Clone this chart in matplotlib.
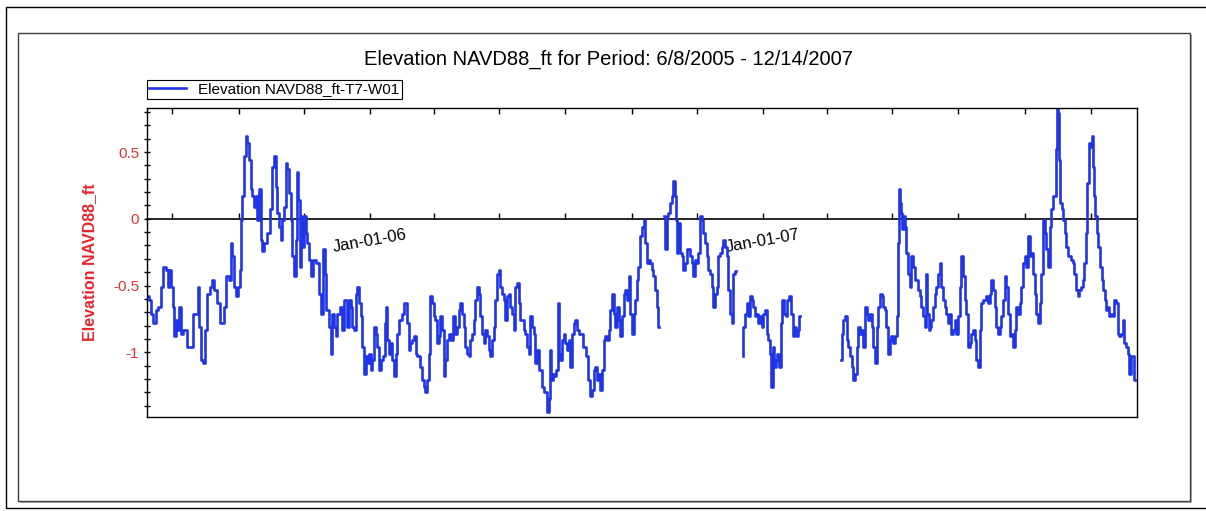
import numpy as np
import pandas as pd
import matplotlib
matplotlib.use("Agg")
import matplotlib.pyplot as plt
import matplotlib.dates as mdates
from matplotlib.ticker import MultipleLocator, FuncFormatter
from matplotlib.patches import Rectangle

plt.rcParams['font.family'] = ['Liberation Sans', 'DejaVu Sans']

# Период наблюдений
start_date = "2005-06-08"
end_date = "2007-12-14"
series_name = "Elevation NAVD88_ft-T7-W01"

# Дни от начала периода и отметка уровня (ft)
days = [
    0.0, 2.9, 4.4, 7.5, 9.1, 12.1, 13.7, 16.8, 18.3, 19.9,
    21.4, 23.0, 24.5, 26.0, 27.6, 29.1, 30.7, 32.2, 35.3, 38.4,
    41.5, 44.0, 46.1, 47.7, 49.2, 51.4, 53.2, 54.8, 56.9, 60.0,
    61.6, 63.1, 66.2, 69.9, 72.4, 74.9, 77.0, 78.6, 80.1, 81.7,
    84.1, 85.7, 86.9, 87.8, 89.4, 90.9, 92.5, 94.0, 95.6, 97.1,
    98.6, 100.2, 101.7, 103.3, 104.8, 106.4, 107.9, 110.1, 112.5, 115.0,
    117.2, 118.7, 120.3, 121.8, 123.4, 124.9, 126.5, 128.0, 129.5, 131.1,
    132.6, 134.2, 135.7, 137.3, 138.8, 139.7, 141.0, 142.2, 143.4, 145.0,
    146.5, 148.1, 149.6, 151.2, 152.7, 155.8, 158.3, 160.4, 162.0, 164.4,
    165.7, 167.5, 169.7, 171.2, 172.8, 174.3, 175.9, 177.4, 180.5, 182.0,
    183.6,
    185.1, 186.7, 188.2, 189.8, 191.3, 192.9, 194.4, 196.0, 197.5, 199.0,
    200.6, 202.1, 203.7, 205.2, 206.8, 208.3, 209.9, 211.4, 212.9, 214.5,
    216.0, 217.6, 220.1, 221.3, 222.2, 223.8, 225.3, 226.9, 228.4, 229.9,
    231.5, 233.0, 235.5, 237.7, 239.2, 240.8, 242.3, 243.8, 245.4, 246.9,
    248.5, 250.0, 252.2, 254.0, 256.2, 257.7, 259.3, 260.8, 262.4, 263.9,
    265.5, 267.0, 268.6, 270.1, 271.6, 273.2, 274.7, 276.3, 277.8, 279.4,
    281.8, 283.1, 285.5, 287.1, 288.6, 290.2, 291.7, 293.3, 294.8, 296.4,
    297.9, 299.4, 301.0, 302.5, 304.1, 305.6, 307.2, 308.7, 310.3, 311.8,
    313.3, 314.9, 316.4, 318.0, 319.5, 321.1, 322.6, 324.2, 325.7, 327.3,
    328.8, 330.3, 331.9, 333.4, 335.0, 336.5, 338.1, 339.6, 341.2, 342.7,
    344.2, 345.8, 347.3, 348.9, 350.4, 352.0, 353.5, 355.1, 356.6, 358.1,
    359.7, 361.2, 362.8, 364.3, 365.9, 367.4, 369.0,
    370.5, 372.1, 373.6, 374.6, 375.8, 377.6, 379.2, 380.7, 382.0, 382.9,
    384.4, 386.0, 387.5, 389.1, 390.6, 392.2, 393.7, 395.3, 396.8, 398.3,
    399.9, 403.0, 406.1, 408.5, 410.1, 412.2, 413.8, 415.3, 416.9, 418.4,
    420.0, 421.5, 423.1, 424.6, 426.2, 427.7, 429.2, 430.8, 432.3, 433.9,
    435.4, 437.0, 438.5, 440.1, 441.6, 443.1, 444.7, 446.2, 447.8, 449.3,
    450.9, 452.4, 454.0, 455.5, 457.0, 458.6, 460.1, 461.7, 463.2, 464.8,
    466.3, 467.9, 469.4, 470.9, 472.5, 474.0, 475.6,
    480.2, 481.8, 483.3, 484.8, 486.4, 487.9, 489.5, 490.4, 491.6, 492.6,
    494.1, 495.7, 497.2, 498.7, 500.3, 501.8, 503.4, 504.9, 506.5, 508.0,
    509.6, 511.1, 512.7, 514.2, 515.7, 517.3, 518.8, 520.4, 521.9, 523.5,
    525.0, 526.6, 528.1, 529.6, 531.2, 532.7, 534.3, 535.8, 537.4, 538.9,
    540.5, 542.0, 543.5, 545.1, 546.6,
    552.8, 554.4,
    555.9, 557.5, 559.0, 560.6, 562.1, 563.7, 565.2, 566.8, 568.3, 569.8,
    571.4, 572.9, 574.5, 576.0, 577.6, 579.1, 580.0, 581.6, 582.8, 584.4,
    585.9, 587.5, 589.0, 590.5, 592.1, 593.6, 595.5, 597.0, 598.6, 600.1,
    601.7, 603.2, 604.8, 606.0,
    644.0, 645.5, 647.1, 648.6, 650.2, 651.7, 653.3, 654.8, 656.3, 657.9,
    659.4, 661.0, 662.5, 664.1, 665.6, 667.2, 668.7, 670.2, 671.8, 673.3,
    674.9, 676.4, 678.0, 679.5, 681.1, 682.6, 684.1, 685.7, 687.2, 688.8,
    690.3, 691.9, 693.4, 695.0, 696.5, 697.4, 698.7, 699.6, 700.5, 701.8,
    702.7, 704.2, 705.8, 707.3, 708.9, 710.4, 711.9, 713.5, 715.0, 716.6,
    718.1, 719.7, 721.2, 722.8, 723.7, 724.9, 726.2, 727.4, 729.0, 730.5,
    732.0, 733.6, 735.1, 736.7, 738.2, 739.7,
    741.2, 742.8, 744.3, 745.9, 747.4, 749.0, 750.5, 752.1, 753.6, 755.1,
    756.7, 758.2, 759.8, 761.3, 762.9, 764.4, 766.0, 767.5, 769.0, 770.6,
    772.1, 773.7, 775.2, 776.8, 778.3, 779.9, 781.4, 782.9, 784.5, 786.0,
    787.6, 789.1, 790.7, 792.2, 793.8, 795.3, 796.9, 798.4, 799.9, 801.5,
    803.0, 804.6, 806.1, 807.7, 809.2, 810.8, 812.3, 813.8, 815.4, 816.9,
    818.5, 820.0, 821.6, 823.1, 824.7, 826.2, 827.7, 829.3, 830.8, 832.4,
    833.9, 835.5, 837.0, 838.6, 840.1, 841.6, 843.2, 844.1, 845.4, 846.3,
    847.2, 848.4, 849.7, 850.9, 852.5, 854.0, 855.5, 857.1, 858.6, 860.2,
    861.7, 863.3, 864.8, 866.4, 867.9, 869.4, 871.0, 872.5, 873.5, 874.7,
    876.2, 877.5, 878.7, 879.6, 880.9, 882.4, 884.0, 885.5, 887.1, 888.6,
    890.1, 891.1, 892.6, 894.2, 895.7, 897.2, 898.8, 900.3, 901.9, 903.4,
    905.0, 906.5, 908.1, 909.6, 911.2, 912.7, 914.2, 915.8, 916.7,
]

elev_ft = [
    -0.58, -0.61, -0.71, -0.78, -0.68, -0.66, -0.51, -0.36, -0.38, -0.51,
    -0.38, -0.51, -0.66, -0.88, -0.76, -0.83, -0.66, -0.86, -0.83, -0.96,
    -0.96, -0.71, -0.71, -0.51, -0.81, -1.06, -1.08, -0.83, -0.56, -0.51,
    -0.46, -0.53, -0.63, -0.78, -0.66, -0.43, -0.46, -0.18, -0.28, -0.51,
    -0.58, -0.51, -0.38, -0.01, 0.17, 0.47, 0.62, 0.57, 0.44, 0.22,
    0.17, 0.09, 0.17, -0.01, 0.22, -0.16, -0.24, -0.18, -0.11, 0.07,
    0.39, 0.47, 0.24, 0.04, -0.06, -0.16, -0.01, 0.09, 0.42, 0.37,
    0.19, -0.01, -0.28, -0.43, -0.16, 0.35, 0.14, -0.36, 0.02, -0.21,
    0.02, -0.11, -0.18, -0.31, -0.43, -0.31, -0.33, -0.56, -0.71, -0.23,
    -0.41, -0.68, -0.81, -1.01, -0.71, -0.81, -0.88, -0.71, -0.66, -0.83,
    -0.61,
    -0.61, -0.81, -0.61, -0.66, -0.81, -0.83, -0.56, -0.51, -0.63, -0.73,
    -0.96, -1.16, -1.03, -1.08, -1.01, -1.13, -1.06, -0.81, -0.86, -0.96,
    -1.13, -1.06, -1.03, -0.78, -0.66, -0.91, -1.01, -0.93, -1.06, -1.18,
    -1.01, -0.86, -0.76, -0.71, -0.63, -0.63, -0.78, -0.98, -0.93, -0.91,
    -0.88, -1.01, -1.03, -1.11, -1.21, -1.26, -1.30, -1.21, -1.01, -0.58,
    -0.63, -0.73, -0.76, -0.93, -0.88, -0.73, -0.83, -1.18, -1.06, -0.91,
    -0.86, -0.91, -0.73, -0.86, -0.81, -0.68, -0.63, -0.71, -0.81, -0.96,
    -1.01, -1.03, -0.91, -0.86, -0.76, -0.61, -0.51, -0.56, -0.73, -0.86,
    -0.93, -0.83, -0.88, -0.98, -1.03, -0.91, -0.81, -0.61, -0.41, -0.38,
    -0.51, -0.56, -0.61, -0.76, -0.58, -0.56, -0.66, -0.71, -0.83, -0.51,
    -0.48, -0.63, -0.76, -0.76, -0.83, -0.86, -0.96, -1.01, -0.73, -0.81,
    -0.86, -1.08, -0.98, -1.13, -1.13, -1.26, -1.30,
    -1.30, -1.45, -1.35, -0.98, -1.21, -1.16, -1.18, -1.13, -0.63, -1.01,
    -1.06, -0.91, -0.86, -0.93, -0.98, -0.91, -1.11, -0.86, -0.78, -0.76,
    -0.83, -0.86, -0.96, -1.03, -1.21, -1.33, -1.28, -1.13, -1.11, -1.21,
    -1.16, -1.28, -1.13, -0.91, -0.88, -0.91, -0.83, -0.68, -0.56, -0.71,
    -0.81, -0.66, -0.76, -0.88, -0.73, -0.56, -0.53, -0.61, -0.43, -0.71,
    -0.86, -0.71, -0.61, -0.46, -0.36, -0.13, -0.06, -0.01, -0.18, -0.33,
    -0.31, -0.33, -0.38, -0.43, -0.53, -0.66, -0.81,
    0.02, -0.23, 0.02, 0.04, 0.12, 0.17, 0.28, 0.17, -0.01, -0.26,
    -0.03, -0.26, -0.28, -0.38, -0.33, -0.23, -0.23, -0.28, -0.33, -0.43,
    -0.31, -0.33, -0.26, 0.02, -0.01, -0.11, -0.18, -0.28, -0.38, -0.41,
    -0.51, -0.66, -0.56, -0.51, -0.28, -0.26, -0.21, -0.16, -0.21, -0.28,
    -0.53, -0.71, -0.78, -0.41, -0.39,
    -1.03, -0.81,
    -0.71, -0.63, -0.73, -0.58, -0.61, -0.66, -0.73, -0.71, -0.78, -0.73,
    -0.81, -0.71, -0.68, -0.86, -0.91, -1.01, -1.26, -0.96, -1.11, -1.06,
    -1.01, -1.11, -0.78, -0.61, -0.71, -0.73, -0.61, -0.58, -0.71, -0.88,
    -0.81, -0.88, -0.83, -0.73,
    -1.06, -0.86, -0.76, -0.73, -0.91, -0.96, -1.03, -1.11, -1.21, -1.16,
    -0.96, -0.81, -0.86, -0.83, -0.96, -0.66, -0.71, -0.76, -0.71, -0.81,
    -0.96, -1.08, -0.81, -0.66, -0.56, -0.58, -0.66, -0.68, -0.81, -1.01,
    -0.91, -0.88, -0.93, -0.88, -0.73, -0.18, 0.22, 0.12, 0.04, -0.08,
    0.02, -0.06, -0.26, -0.41, -0.51, -0.28, -0.36, -0.46, -0.46, -0.53,
    -0.58, -0.66, -0.73, -0.81, -0.41, -0.71, -0.83, -0.81, -0.76, -0.66,
    -0.56, -0.51, -0.41, -0.33, -0.51, -0.61,
    -0.66, -0.71, -0.78, -0.71, -0.86, -0.83, -0.76, -0.86, -0.73, -0.51,
    -0.28, -0.43, -0.61, -0.71, -0.96, -0.93, -0.86, -0.83, -0.91, -1.06,
    -1.11, -0.83, -0.63, -0.61, -0.61, -0.58, -0.63, -0.56, -0.46, -0.53,
    -0.66, -0.81, -0.86, -0.81, -0.73, -0.61, -0.43, -0.51, -0.71, -0.88,
    -0.86, -0.96, -0.83, -0.66, -0.71, -0.63, -0.51, -0.33, -0.28, -0.36,
    -0.13, -0.28, -0.26, -0.41, -0.56, -0.71, -0.78, -0.63, -0.41, -0.01,
    -0.11, -0.23, -0.36, -0.06, 0.07, 0.17, 0.17, 0.52, 0.83, 0.79,
    0.44, 0.12, 0.07, -0.01, -0.11, -0.21, -0.28, -0.28, -0.31, -0.33,
    -0.41, -0.53, -0.58, -0.53, -0.51, -0.46, -0.33, -0.11, 0.27, 0.57,
    0.54, 0.62, 0.39, 0.17, 0.02, -0.11, -0.21, -0.36, -0.46, -0.53,
    -0.61, -0.68, -0.66, -0.73, -0.71, -0.73, -0.61, -0.63, -0.86, -0.88,
    -0.86, -0.76, -0.93, -0.96, -1.01, -1.16, -1.03, -1.03, -1.21,
]

y_min, y_max = -1.485, 0.83

# --- готовим данные: разрывы в записи (пропуски > 4 дней) ---
d = np.array(days, dtype=float)
v = np.array(elev_ft, dtype=float)
gap_idx = np.where(np.diff(d) > 4)[0] + 1
t0 = pd.Timestamp(start_date)
x = mdates.date2num(t0 + pd.to_timedelta(d, unit="D"))

W, H = 1206, 511
fig = plt.figure(figsize=(W / 100, H / 100), dpi=100)

# рамки вокруг картинки
fig.add_artist(Rectangle((6 / W, 1 - 508 / H), 1.2, 501 / H, transform=fig.transFigure,
                         fill=False, ec="black", lw=1.0, zorder=-2))
fig.add_artist(Rectangle((20 / W, 1 - 503 / H), 1172 / W, 468 / H, transform=fig.transFigure,
                         fc="#b0b0b0", ec="none", zorder=-2))
fig.add_artist(Rectangle((18 / W, 1 - 501 / H), 1172 / W, 468 / H, transform=fig.transFigure,
                         fc="white", ec="#404040", lw=1.0, zorder=-1))

ax = fig.add_axes([147 / W, 1 - 417 / H, 990 / W, 309 / H])
# каждый непрерывный кусок записи рисуем отдельно
for i, (xs, vs) in enumerate(zip(np.split(x, gap_idx), np.split(v, gap_idx))):
    ax.plot(xs, vs, color="#1f35e6", lw=1.9, drawstyle="steps-mid",
            label=series_name if i == 0 else None)

ax.set_xlim(mdates.date2num(pd.Timestamp(start_date)), mdates.date2num(pd.Timestamp(end_date)))
ax.set_ylim(y_min, y_max)

for s in ax.spines.values():
    s.set_linewidth(1.0)

# ось Y
def ytick_fmt(val, pos):
    val = round(val, 2)
    if val == 0:
        return "0"
    return f"{val:g}"

ax.yaxis.set_major_locator(MultipleLocator(0.5))
ax.yaxis.set_minor_locator(MultipleLocator(0.1))
ax.yaxis.set_major_formatter(FuncFormatter(ytick_fmt))
ax.tick_params(axis="y", which="both", direction="inout", length=5, width=1,
               labelcolor="#e03434", labelsize=11, pad=3)
ax.set_ylabel("Elevation NAVD88_ft", color="#e8242a", fontweight="bold", fontsize=11.5)
ax.yaxis.set_label_coords(-0.05, 0.5)

# ось X: засечки сверху и по нулевой линии
month_loc = mdates.MonthLocator(bymonth=[1, 3, 5, 7, 9, 11])
ax.xaxis.set_major_locator(month_loc)
ax.tick_params(axis="x", top=True, bottom=False, labeltop=False, labelbottom=False,
               direction="in", length=4, width=1)

def jan_label(val, pos):
    dt = mdates.num2date(val)
    return dt.strftime("%b-%d-%y") if dt.month == 1 else ""

zero_frac = (0 - y_min) / (y_max - y_min)
sec = ax.secondary_xaxis(zero_frac)
sec.set_alignment("bottom")
sec.xaxis.set_major_locator(mdates.MonthLocator(bymonth=[1, 3, 5, 7, 9, 11]))
sec.xaxis.set_major_formatter(FuncFormatter(jan_label))
sec.tick_params(direction="in", length=4, width=1, pad=6, labelsize=12, labelrotation=10)
sec.spines["bottom"].set_linewidth(1.2)

fig.text(608 / W, 1 - 59 / H, "Elevation NAVD88_ft for Period: 6/8/2005 - 12/14/2007",
         ha="center", va="center", fontsize=14.5)

leg = ax.legend(loc="lower left", bbox_to_anchor=(0, 1.03), borderaxespad=0, fontsize=11,
                fancybox=False, edgecolor="black", framealpha=1, borderpad=0.15,
                handlelength=2.4, handletextpad=0.8)
leg.get_frame().set_linewidth(0.8)

fig.savefig("out.png", dpi=100)
